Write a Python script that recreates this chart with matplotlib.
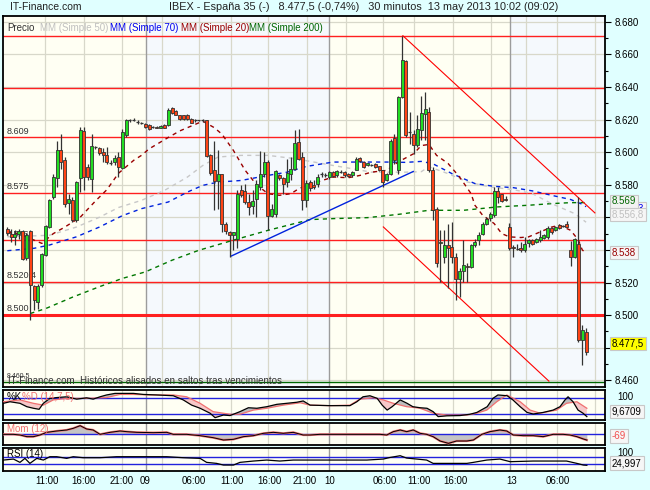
import matplotlib
matplotlib.use("Agg")
import matplotlib.pyplot as plt
import numpy as np

plt.rcParams['font.family'] = ['Liberation Sans', 'DejaVu Sans']

# ---------------- data ----------------
opens = [8553,8550,8548,8550,8551.4,8535,8551.4,8517.8,8508.2,8518.4,8536.7,8554,8572.4,8584.3,8601,8595,8568.8,8570.8,8558.2,8584,
         8612.8,8590.8,8583.7,8603,8602.6,8600,8598,8594,8593.9,8597,8590.2,8610.2,8619.4,8620,8618.4,8618,8617.4,8616.7,8615.3,8615.7,
         8614.9,8616.7,8616.7,8627,8625.5,8622.5,8622.5,8622.9,8620.4,8619.4,8619.4,8619.4,8619.4,8598,8588.8,8582.1,8586.3,8556,8551,8549,
         8547,8576.5,8576.1,8569.4,8566.7,8571.4,8578.6,8586.3,8593.9,8560.6,8562.2,8585.7,8584.3,8581.6,8586.7,8589.8,8606.1,8597.3,8570.4,8581.6,
         8579.6,8580.2,8586.3,8586,8584.7,8587.7,8585.7,8588.4,8588,8586.7,8585.9,8589.2,8596.5,8593.9,8591.8,8592.6,8592.8,8591.2,8588.8,8582.6,
         8586.3,8608.8,8588.8,8634.1,8655.7,8612.3,8611.3,8604.1,8613.3,8623.5,8624.9,8588.8,8565.4,8544,8535.8,8543.3,8541.5,8535.4,8521.9,8526.9,
         8530.3,8529.3,8543,8546,8549.6,8556.2,8559.8,8561.3,8576.1,8574,8571.4,8554.1,8541.9,8541.5,8540.9,8539.9,8544,8545.9,8544.9,8546,
         8547.6,8548,8553.7,8552,8555.1,8554.5,8555.7,8539.9,8535.8,8543.9,8484.8,8489.5]
highs = [8554,8553,8552,8553,8552,8550.4,8552,8518.4,8519,8537.8,8555,8571.4,8586.7,8607,8611,8597,8574.5,8572.4,8582,8615.7,
         8615.3,8592.8,8611.3,8604,8603,8602.4,8603,8595,8598,8600,8614.3,8620.4,8620.4,8621,8619.4,8618.6,8618,8617,8616,8616.2,
         8616.8,8617.2,8627,8627.6,8626,8623,8623,8623.3,8621,8620.4,8620,8620.4,8620,8599,8607,8601,8586.7,8557,8551.5,8551,
         8576.5,8579.6,8580.6,8574.5,8576.5,8582.6,8600.6,8600,8594.9,8568.4,8588.8,8586.3,8584.7,8595.9,8596.9,8613.6,8614.3,8600,8582.6,8582.6,
         8582.6,8586.7,8588,8587,8588.6,8588.4,8589,8589.2,8588.5,8587,8588.5,8596.9,8596.9,8594.3,8593.6,8593,8593.2,8591.6,8589.2,8587,
         8608,8611,8634.7,8671.4,8656.5,8624.5,8613.3,8622.5,8634.7,8636.8,8627.6,8590.9,8566.4,8552,8552,8556,8557,8537.8,8528.6,8546,
         8531.7,8543.9,8547,8551,8557.2,8560.2,8563.3,8578.6,8578.6,8574.5,8572.9,8556.6,8542.9,8543.9,8544.9,8548,8547,8546.5,8547.5,8552,
         8550,8554.5,8554.1,8554.6,8556.2,8555,8557.8,8545.5,8547.6,8572.5,8494,8491.9]
lows = [8549,8545,8543,8547,8533.7,8533.7,8497,8503,8504,8517.4,8536,8553.6,8571.4,8578.6,8589.8,8566.3,8562.2,8557.2,8557,8575.5,
        8576.5,8582.6,8575.5,8602,8598,8593.9,8592.8,8592,8591.9,8584.7,8589.8,8609.2,8618.4,8619,8617,8617.4,8615,8613.7,8614.6,8614.5,
        8614.5,8614.5,8616,8623.5,8622.5,8620,8620,8620,8617.6,8618.4,8618.8,8618.4,8597,8586,8564.3,8565,8551,8550,8535.7,8540,
        8541,8572.4,8568.4,8561.2,8562.2,8560.2,8576.5,8584.7,8552,8560.2,8560.2,8583,8574.5,8578.6,8582.6,8588.8,8594.9,8564.3,8566.3,8576,
        8577.5,8578.6,8585,8585,8583.7,8584.5,8585,8587.2,8585,8584.5,8585,8588.8,8594,8590.5,8591.2,8591.2,8590.4,8588.6,8578.6,8582,
        8585.9,8593,8586.8,8633,8609.2,8605.1,8599,8603.1,8607.2,8607.2,8587.8,8558.2,8529.7,8520.5,8531.7,8516.4,8531.7,8509.3,8511.3,8520.5,
        8520.5,8528.6,8541.9,8543,8549,8555,8558,8560.2,8569,8569.4,8570,8539.9,8535.8,8539.9,8538.8,8538.8,8541.9,8543,8544,8545,
        8547,8547,8550,8551.5,8553,8554,8554,8530,8534.8,8483.8,8469.5,8475.6]
closes = [8550.4,8548,8550,8551.5,8534.7,8549,8518.4,8509.2,8517.8,8537.4,8554.5,8570.4,8585,8601.4,8594,8568.4,8571.4,8558.2,8581.6,8613.6,
          8585,8584.7,8603.5,8603,8599.4,8598,8594,8593.5,8596.3,8590.8,8612.3,8619.4,8619.4,8620,8618.4,8618,8615.3,8614.3,8615.3,8614.9,
          8616.3,8614.9,8626.1,8624.1,8622.9,8620.4,8620.4,8620.4,8618,8619.4,8619.4,8619.4,8597.6,8587.4,8582.1,8586.8,8556.1,8551.6,8549,8551,
          8574.5,8573.5,8569.4,8566.3,8569.8,8580.2,8586.3,8593.9,8560.6,8565.3,8588.4,8584.1,8580.6,8587.1,8589.8,8605.5,8595.9,8570.4,8581,8578.1,
          8578.6,8584.7,8586.3,8586,8587.7,8585.1,8588.4,8587.7,8585.7,8585.1,8588.1,8595.9,8594.5,8590.8,8593.2,8592,8590.8,8589.2,8581.6,8586.3,
          8607.1,8595.3,8634.1,8656.5,8610.2,8612.3,8604.1,8614.3,8624.1,8626.6,8588.8,8564.3,8531.7,8545,8542.9,8540.9,8535.8,8521.9,8526.9,8530.7,
          8529.3,8542.9,8545,8549,8556.2,8559.2,8562.3,8576.1,8572.5,8570,8570.5,8540.9,8540.9,8540.7,8539.9,8543.9,8545.9,8543.9,8547,8548,
          8549.2,8553.5,8551.1,8554.1,8553.7,8554.5,8554.1,8535.8,8546.4,8484.8,8490.9,8477.5]

ma20_x = [0,3,7,9,12,15,19,23,26,29,33,35,37,42,45,48,51,54,56,59,62,65,68,71,74,76,79,82,85,89,92,95,99,102,106,108,110,112,115,118,121,122,124,127,129,131,134,136,139,142,144,147,149,150,151]
ma20_y = [8551,8550,8546,8544,8550,8554,8560,8570,8577,8587,8595,8598,8602,8609,8613,8616,8619,8615,8611,8601,8589,8580,8574.5,8573.5,8574.5,8577.5,8580.5,8582.5,8584.7,8584.3,8585.7,8587.7,8588.8,8594,8599,8604,8604.7,8598,8593,8584.7,8574.5,8567.4,8561.3,8556.2,8550,8548,8547.6,8548,8551,8554,8555.2,8552,8546,8540,8538]
ma50_x = [0,11,18,24,29,35,41,47,51,55,61,68,75,80,85,90,95,99,104,108,110,115,120,126,132,137,142,148,151]
ma50_y = [8548,8549,8554,8560,8566,8570.4,8576.5,8584.7,8591.8,8597,8598,8598,8596,8593.9,8591.8,8589.8,8587.7,8587.7,8587.7,8588,8591,8586.8,8581.7,8578.6,8577,8574.5,8568.4,8562.3,8557]
ma70_x = [0,7,11,18,24,30,35,42,47,51,55,61,68,73,78,85,92,99,104,108,111,116,122,127,132,137,142,147,150,151]
ma70_y = [8539.5,8541,8543,8548,8554,8561,8565.3,8569.4,8575.5,8579.6,8581.6,8582.6,8585.7,8587.7,8591.2,8593.9,8593.9,8593.9,8593.7,8594.3,8592.9,8586.8,8580.7,8579,8578.2,8576.2,8573.5,8570.9,8568,8566.5]
ma200_x = [6,10,17,24,30,36,43,50,59,68,73,79,85,94,102,110,119,128,136,142,147,151]
ma200_y = [8501,8504,8511,8517.4,8522.5,8526.5,8533.7,8539.8,8546,8552,8555,8558.6,8559.2,8559.8,8561.8,8564.3,8564.3,8566.4,8567.4,8568.4,8569,8569]

hlines_thin = [8671, 8639.5, 8609, 8575, 8546, 8520.4]
hline_thick = 8500
hline_low = 8459
left_labels = [(8609, "8.609"), (8575, "8.575"), (8546, "8.546"), (8520.4, "8.520,4"), (8500, "8.500")]
red_trend1 = ([103.2, 153.3], [8671.4, 8562.7])
red_trend2 = ([98.1, 141.3], [8554.1, 8459.5])
blue_trend = ([58.3, 105.9], [8536.1, 8588.1])

price_ticks = list(range(8460, 8681, 20))
hidden_ticks = [8480, 8540, 8560]   # covered by the value boxes in the original

stk_x = [-1.0,0.7,3.3,5.1,6.8,8.3,9.4,11.1,12.9,15.5,18.1,20.7,22.4,24.2,25.9,28.1,31.2,32.9,35.5,39.0,43.3,45.9,48.1,50.3,52.9,54.2,56.4,58.1,60.7,62.9,65.1,67.7,70.3,72.9,75.5,77.2,79.0,
         84.2,89.4,91.2,92.8,94.6,96.5,97.8,99.1,100.4,102.5,104.3,105.8,107.7,109.5,111.1,112.4,114.7,118.1,120.7,122.5,125.2,126.7,128.0,130.4,131.9,133.8,135.6,137.2,139.8,142.4,144.2,145.5,146.3,147.6,148.9,150.2,151.2]
stk_k = [61,67,61,48,42,38,61,80,83,86,77,82,77,86,93,99,99,99,95,93,90,74,54,42,23,6,16,14,29,44,42,48,57,61,65,70,54,
         52,52,67,86,90,80,54,35,48,74,61,48,44,42,29,10,13,14,19,26,48,80,93,90,74,48,26,20,26,35,48,74,86,67,35,23,10]
std_x = [-1.0,3.3,6.8,9.4,12.0,15.5,20.7,25.9,29.4,32.9,37.2,43.3,46.8,50.3,53.7,58.1,60.7,64.2,67.7,72.0,76.4,79.0,84.2,89.4,92.0,95.5,98.1,100.7,104.2,107.7,
         111.1,114.6,119.9,122.5,125.1,127.7,130.3,133.8,136.4,139.0,143.3,145.9,148.6,151.2]
std_d = [67,74,61,54,74,80,80,83,95,95,93,93,86,61,29,19,19,35,42,54,63,54,52,54,77,82,74,61,48,42,23,16,16,23,35,67,93,67,35,23,35,61,67,42]

mom_x = [-1.0,1.6,3.3,5.1,6.8,8.5,10.3,12.9,15.5,17.2,19.0,20.7,22.4,24.2,26.8,29.4,31.2,33.8,38.1,41.6,43.3,46.8,50.3,53.7,56.4,59.0,61.6,64.2,66.8,69.4,
         72.0,74.6,77.2,79.0,81.6,86.8,92.0,97.2,99.0,100.7,102.5,104.2,105.9,107.7,109.4,111.1,112.9,115.1,117.2,119.9,121.6,123.8,125.9,128.5,130.3,132.0,134.6,137.2,139.8,142.4,
         145.0,146.8,148.6,150.3,151.2]
mom_v = [0,0,-8,-28,-28,-8,24,40,52,72,104,64,52,0,24,40,32,24,20,24,0,0,-16,-40,-68,-60,-28,-16,12,24,
         12,24,-8,-8,0,0,0,0,-8,32,52,32,52,12,0,-28,-80,-108,-80,-80,-68,0,32,52,40,-8,-16,-16,-28,0,
         0,-8,-28,-56,-69]

rsi_x = [-1.0,1.6,3.3,4.6,5.9,7.7,9.4,11.1,12.9,15.5,17.2,19.8,24.2,28.5,32.9,37.2,41.6,45.9,50.3,52.0,54.6,56.4,59.0,60.7,64.2,67.7,71.1,74.6,76.4,80.7,
         85.1,89.4,93.8,98.1,99.8,102.5,104.2,106.8,109.4,111.1,115.5,119.9,121.6,125.1,128.5,131.2,137.2,141.6,145.9,148.6,150.3,151.2]
rsi_v = [52.6,57.9,40.4,61.4,35.1,61.4,52.6,70.2,70.2,61.4,70.2,64.9,64.9,70.2,70.2,70.2,70.2,64.9,61.4,40.4,35.1,26.3,26.3,40.4,47.4,52.6,47.4,52.6,52.6,52.6,
         52.6,52.6,52.6,57.9,66,75.4,63,57.9,52.6,35.1,35.1,35.1,40.4,52.6,57.9,44,47.4,47.4,47.4,35.1,26.3,25]

tick_labels = ["11:00","16:00","21:00","09","06:00","11:00","16:00","21:00","10","06:00","11:00","16:00","13","06:00"]
tick_px = [47,83,122,145,194,232,269,305,330,385,419,455,512,558]
grid_px = [45,84,122,162,199,230.7,268.3,306.7,345.7,383.3,414.3,452.7,491,525.7,556.7,595]
day_px = [145.7,329.3,510]

# ---------------- layout helpers ----------------
W, H = 650, 490
X0, DX = 7.3, 3.833
def ix(px):
    return (px - X0) / DX

fig = plt.figure(figsize=(6.5, 4.9), dpi=100)
fig.patch.set_facecolor('#E0FFFF')

def add_ax(l, t, r, b):
    return fig.add_axes([l / W, 1 - b / H, (r - l) / W, (b - t) / H])

XL = (ix(3), ix(605))
GRID_C = '#D8D8CA'
DAY_C = '#9C9C9C'
IVORY = '#FFFFF3'
PALEBLUE = '#F5F9FD'

def style_ax(ax):
    ax.set_xlim(*XL)
    for s in ax.spines.values():
        s.set_color('black'); s.set_linewidth(1.3)
    ax.set_xticks([])
    for g in grid_px:
        ax.axvline(ix(g), color=GRID_C, lw=0.9, zorder=0.5)
    for g in day_px:
        ax.axvline(ix(g), color=DAY_C, lw=1.0, zorder=0.6)

def ptxt(x, y, s, **kw):
    fig.text(x / W, 1 - y / H, s, **kw)

# ---------------- main price panel ----------------
ax = add_ax(3, 16, 605, 387)
ax.set_facecolor(IVORY)
ax.set_ylim(8455.9, 8683.5)
bounds = [XL[0]] + [ix(p) for p in day_px] + [XL[1]]
cols = [IVORY, PALEBLUE, IVORY, PALEBLUE]
for i in range(4):
    ax.axvspan(bounds[i], bounds[i + 1], color=cols[i], zorder=0, lw=0)
style_ax(ax)
for v in price_ticks:
    ax.axhline(v, color=GRID_C, lw=0.9, zorder=0.5)

ax.yaxis.tick_right()
ax.set_yticks(price_ticks)
ax.set_yticklabels(["" if v in hidden_ticks else f"{v // 1000}.{v % 1000:03d}" for v in price_ticks], fontsize=7)
ax.set_yticks(range(8470, 8680, 20), minor=True)
ax.tick_params(axis='y', which='major', length=4, width=0.8, pad=3, colors='black')
ax.tick_params(axis='y', which='minor', length=2, width=0.8)

for v in hlines_thin:
    ax.axhline(v, color='#FF2020', lw=1.0, zorder=2)
ax.axhline(hline_thick, color='#FF2020', lw=2.2, zorder=2)
ax.axhline(hline_low, color='#006600', lw=1.0, zorder=2)
for v, s in left_labels:
    ax.text(ix(7), v + 1.0, s, fontsize=6.5, color='#333333', va='bottom', ha='left', zorder=3)

# moving averages
ax.plot(ma200_x, ma200_y, color='#007700', lw=1.0, ls=(0, (3, 3)), zorder=3)
ax.plot(ma50_x, ma50_y, color='#C8C8C8', lw=1.0, ls=(0, (3, 3)), zorder=3)
ax.plot(ma70_x, ma70_y, color='#0022DD', lw=1.0, ls=(0, (3, 3)), zorder=3)
ax.plot(ma20_x, ma20_y, color='#990000', lw=1.0, ls=(0, (3, 3)), zorder=3)

# trend lines
ax.plot(*red_trend1, color='#FF0000', lw=0.8, zorder=3)
ax.plot(*red_trend2, color='#FF0000', lw=0.8, zorder=3)
ax.plot(*blue_trend, color='#0022DD', lw=1.0, zorder=3)

# candles
o = np.array(opens); h = np.array(highs); l = np.array(lows); c = np.array(closes)
idx = np.arange(len(o))
ax.vlines(idx, l, h, color='#333333', lw=0.9, zorder=4)
bh = np.abs(c - o)
bb = np.minimum(o, c)
doji = bh < 0.8
up = (c > o) & ~doji
dn = (c <= o) & ~doji
ax.bar(idx[up], bh[up], bottom=bb[up], width=0.78, color='#22DD22', edgecolor='#333333', lw=0.6, zorder=5)
ax.bar(idx[dn], bh[dn], bottom=bb[dn], width=0.78, color='#FF4416', edgecolor='#333333', lw=0.6, zorder=5)
ax.hlines(c[doji], idx[doji] - 0.4, idx[doji] + 0.4, color='#333333', lw=0.9, zorder=5)

# legend and texts in main panel
leg = [(7.5, "Precio", '#333333'), (39.6, "MM (Simple 50)", '#C0C0C0'), (110.4, "MM (Simple 70)", '#0000EE'),
       (181.3, "MM (Simple 20)", '#990000'), (249.2, "MM (Simple 200)", '#006600')]
for x, s, col in leg:
    ptxt(x, 28, s, fontsize=7, color=col, va='center', ha='left')
ptxt(8, 381, "IT-Finance.com  Históricos alisados en saltos tras vencimientos", fontsize=7, color='#333333', va='center')
ptxt(7, 376, "8.460,5", fontsize=5, color='#333333', va='center')

# title
ptxt(10, 7, "IT-Finance.com", fontsize=7.5, color='#222222', va='center')
ptxt(169, 7, "IBEX - España 35 (-)   8.477,5 (-0,74%)   30 minutos  13 may 2013 10:02 (09:02)",
     fontsize=7.8, color='#222222', va='center')

# right value boxes
def vbox(y, s, fc, tc, ec='#C8C8C8'):
    ptxt(612, y, s, fontsize=7, color=tc, va='center', ha='left',
         bbox=dict(boxstyle='square,pad=0.2', fc=fc, ec=ec, lw=0.8))
vbox(208.5, "8.566,3", '#F6F6F6', '#0000EE')
vbox(214.5, "8.556,8", '#F6F6F6', '#C0C0C0')
vbox(201.5, "8.569", '#F2F2F2', '#006600')
vbox(252.5, "8.538", '#F6F6F6', '#990000')
vbox(343.5, "8.477,5", '#FFFF00', '#000000', ec='#C8C8C8')

# ---------------- stochastic ----------------
a1 = add_ax(3, 390, 605, 420)
a1.set_facecolor(IVORY)
style_ax(a1)
a1.set_ylim(-3, 112)
a1.set_yticks([])
a1.axhline(80, color='#2222DD', lw=1.0, zorder=2)
a1.axhline(20, color='#2222DD', lw=1.0, zorder=2)
xx = np.linspace(-1, 151.2, 800)
kk = np.interp(xx, stk_x, stk_k)
dd = np.interp(xx, std_x, std_d)
a1.fill_between(xx, kk, dd, where=kk >= dd, color='#BDBDBD', lw=0, zorder=1.5, interpolate=True)
a1.fill_between(xx, kk, dd, where=kk < dd, color='#F6C8C8', lw=0, zorder=1.5, interpolate=True)
a1.plot(std_x, std_d, color='#F07070', lw=0.9, zorder=3)
a1.plot(stk_x, stk_k, color='black', lw=0.9, zorder=4)
a1.text(ix(7), 104, "%K", fontsize=7, color='black', va='top', ha='left', zorder=5)
a1.text(ix(22), 104, "%D (14,7,5)", fontsize=7, color='#F07070', va='top', ha='left', zorder=5)
ptxt(617, 396.7, "100", fontsize=7, color='black', va='center')
vbox(411.5, "9,6709", '#F6F6F6', '#000000')

# ---------------- momentum ----------------
a2 = add_ax(3, 423, 605, 445)
a2.set_facecolor(IVORY)
style_ax(a2)
a2.set_ylim(-128, 136)
a2.set_yticks([])
a2.axhline(0, color='#2222DD', lw=1.0, zorder=2)
a2.fill_between(mom_x, mom_v, 0, color='#C4C4C4', lw=0, zorder=1.5)
a2.plot(mom_x, mom_v, color='#F07070', lw=1.6, zorder=3)
a2.plot(mom_x, mom_v, color='black', lw=0.7, zorder=4)
a2.text(ix(7), 125, "Mom (12)", fontsize=7, color='#F07070', va='top', ha='left', zorder=5)
vbox(436, "-69", '#F6F6F6', '#F05050')

# ---------------- RSI ----------------
a3 = add_ax(3, 448, 605, 471)
a3.set_facecolor(IVORY)
style_ax(a3)
a3.set_ylim(-5, 116)
a3.set_yticks([])
a3.axhline(70, color='#2222DD', lw=1.0, zorder=2)
a3.axhline(30, color='#2222DD', lw=1.0, zorder=2)
a3.plot(rsi_x, rsi_v, color='black', lw=0.9, zorder=4)
a3.text(ix(7), 110, "RSI (14)", fontsize=7, color='black', va='top', ha='left', zorder=5)
ptxt(617, 452.5, "100", fontsize=7, color='black', va='center')
vbox(463.3, "24,997", '#F6F6F6', '#000000')

# time labels
for px, s in zip(tick_px, tick_labels):
    ptxt(px, 480.5, s, fontsize=7, color='black', va='center', ha='center')

fig.savefig("out.png", dpi=100, facecolor=fig.get_facecolor())
